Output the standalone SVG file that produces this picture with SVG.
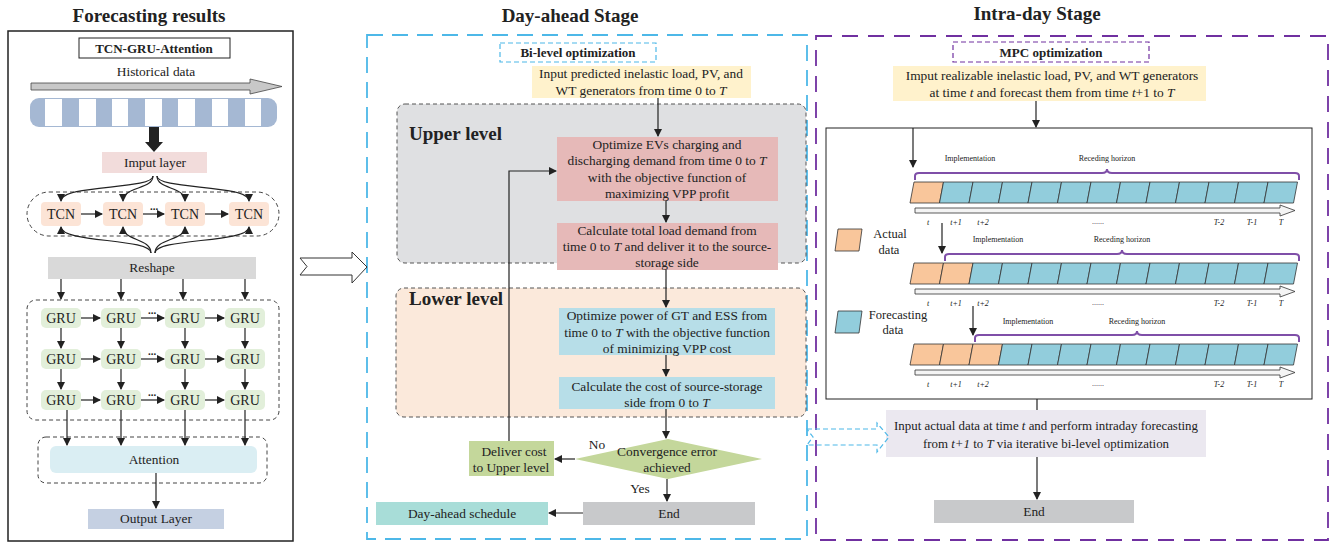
<svg xmlns="http://www.w3.org/2000/svg" width="1343" height="545" viewBox="0 0 1343 545">
<defs>
<style>
text{font-family:"Liberation Serif","Times New Roman",serif;fill:#222;}
.t13{font-size:13.4px;text-anchor:middle;}
.t12{font-size:12.9px;text-anchor:middle;}
.t14{font-size:14px;text-anchor:middle;}
.b13{font-size:13px;font-weight:bold;text-anchor:middle;}
.h{font-size:19px;font-weight:bold;text-anchor:middle;}
.lv{font-size:19px;font-weight:bold;}
.s8{font-size:8px;text-anchor:middle;}
.i{font-style:italic;}
.ln{stroke:#222;stroke-width:1.2;fill:none;}
.arr{stroke:#222;stroke-width:1.2;fill:none;marker-end:url(#ah);}
.dash{fill:none;stroke:#444;stroke-width:1;stroke-dasharray:4,3;}
.cellO{fill:#f9c69b;stroke:#333;stroke-width:0.8;}
.cellB{fill:#92cddc;stroke:#333;stroke-width:0.8;}
.tl{fill:#f4f4f4;stroke:#333;stroke-width:0.8;}
.brace{fill:none;stroke:#7f4fa8;stroke-width:2;}
</style>
<marker id="ah" markerWidth="8" markerHeight="8" refX="7" refY="4" orient="auto" markerUnits="userSpaceOnUse">
<path d="M0,0 L8,4 L0,8 Z" fill="#222"/>
</marker>
<polygon id="cell" points="4,0 33.5,0 29.5,21 0,21"/>
<polygon id="tarr" points="0,-2.5 365,-2.5 365,-5.5 380,0 365,5.5 365,2.5 0,2.5"/>
</defs>

<!-- Titles -->
<text class="h" x="149" y="22">Forecasting results</text>
<text class="h" x="570" y="22">Day-ahead Stage</text>
<text class="h" x="1037" y="20">Intra-day Stage</text>

<!-- Left panel -->
<g id="panel-forecast">
<rect x="8" y="31" width="285" height="510" fill="#fff" stroke="#222" stroke-width="1.5"/>
<rect x="79" y="38" width="151" height="20" fill="#fff" stroke="#222" stroke-width="1"/>
<text class="b13" x="154" y="53">TCN-GRU-Attention</text>
<text class="t13" x="156" y="76">Historical data</text>
<polygon points="31,83 250,83 250,79 282,86.5 250,94 250,90 31,90" fill="#c8c8c8" stroke="#444" stroke-width="0.8"/>
<rect x="30" y="98" width="247" height="29" rx="9" fill="#a5b8d3"/>
<g fill="#fff">
<rect x="45" y="99" width="17" height="27"/><rect x="79" y="99" width="17" height="27"/><rect x="112" y="99" width="16" height="27"/><rect x="145" y="99" width="17" height="27"/><rect x="178" y="99" width="17" height="27"/><rect x="212" y="99" width="16" height="27"/><rect x="245" y="99" width="16" height="27"/>
</g>
<polygon points="149,127 159,127 159,142 163,142 154,152 145,142 149,142" fill="#222"/>
</g>

<g id="imput-layer"><rect x="102" y="152" width="105" height="21" fill="#f2dcdb"/><text class="t13" x="155" y="167">Imput layer</text></g>

<g id="tcn-block">
<rect x="27" y="192" width="252" height="44" rx="22" class="dash"/>
<rect x="41" y="202" width="40" height="24" rx="4" fill="#fce4d6"/><text class="t14" x="61" y="219">TCN</text>
<rect x="103" y="202" width="40" height="24" rx="4" fill="#fce4d6"/><text class="t14" x="123" y="219">TCN</text>
<rect x="165" y="202" width="40" height="24" rx="4" fill="#fce4d6"/><text class="t14" x="185" y="219">TCN</text>
<rect x="229" y="202" width="40" height="24" rx="4" fill="#fce4d6"/><text class="t14" x="249" y="219">TCN</text>
<text x="154" y="210" style="font-size:11px;font-weight:bold;text-anchor:middle">...</text>
</g>

<g id="reshape"><rect x="48" y="257" width="208" height="22" fill="#d9d9d9"/><text class="t13" x="152" y="272">Reshape</text></g>

<g id="gru-block">
<rect x="27" y="300" width="252" height="120" rx="9" class="dash"/>
<g fill="#e2efda">
<rect x="41" y="308" width="40" height="20" rx="5"/><rect x="101" y="308" width="40" height="20" rx="5"/><rect x="165" y="308" width="40" height="20" rx="5"/><rect x="225" y="308" width="40" height="20" rx="5"/>
<rect x="41" y="349" width="40" height="20" rx="5"/><rect x="101" y="349" width="40" height="20" rx="5"/><rect x="165" y="349" width="40" height="20" rx="5"/><rect x="225" y="349" width="40" height="20" rx="5"/>
<rect x="41" y="390" width="40" height="20" rx="5"/><rect x="101" y="390" width="40" height="20" rx="5"/><rect x="165" y="390" width="40" height="20" rx="5"/><rect x="225" y="390" width="40" height="20" rx="5"/>
</g>
<text class="t14" x="61" y="323">GRU</text><text class="t14" x="121" y="323">GRU</text><text class="t14" x="185" y="323">GRU</text><text class="t14" x="245" y="323">GRU</text>
<text class="t14" x="61" y="364">GRU</text><text class="t14" x="121" y="364">GRU</text><text class="t14" x="185" y="364">GRU</text><text class="t14" x="245" y="364">GRU</text>
<text class="t14" x="61" y="405">GRU</text><text class="t14" x="121" y="405">GRU</text><text class="t14" x="185" y="405">GRU</text><text class="t14" x="245" y="405">GRU</text>
<text x="152" y="314" style="font-size:11px;font-weight:bold;text-anchor:middle">...</text>
<text x="152" y="355" style="font-size:11px;font-weight:bold;text-anchor:middle">...</text>
<text x="152" y="396" style="font-size:11px;font-weight:bold;text-anchor:middle">...</text>
</g>

<g id="attention">
<rect x="38" y="437" width="229" height="46" rx="8" class="dash"/>
<rect x="50" y="446" width="207" height="27" rx="6" fill="#daeef3"/>
<text class="t13" x="154" y="464">Attention</text>
</g>

<g id="output-layer"><rect x="88" y="509" width="136" height="20" fill="#c5d0e2"/><text class="t13" x="156" y="523">Output Layer</text></g>

<!-- Middle panel -->
<g id="panel-dayahead">
<rect x="367" y="35" width="440" height="504" fill="none" stroke="#4db8e8" stroke-width="1.8" stroke-dasharray="16,9"/>
<rect x="500" y="43" width="156" height="19" fill="none" stroke="#4db8e8" stroke-width="1.2" stroke-dasharray="5,3"/>
<text class="b13" x="578" y="57">Bi-level optimization</text>
</g>

<g id="upper-level">
<rect x="397" y="104" width="409" height="159" rx="8" fill="#dfe0e2" stroke="#555" stroke-width="1" stroke-dasharray="4,3"/>
<text class="lv" x="409" y="140">Upper level</text>
</g>
<g id="lower-level">
<rect x="396" y="288" width="410" height="129" rx="8" fill="#fbe9db" stroke="#555" stroke-width="1" stroke-dasharray="4,3"/>
<text class="lv" x="409" y="305">Lower level</text>
</g>

<g id="input-predicted">
<rect x="532" y="66" width="219" height="32" fill="#fff2cc"/>
<text class="t13" x="641" y="77.5">Input predicted inelastic load, PV, and</text>
<text class="t13" x="641" y="95">WT generators from time 0 to <tspan class="i">T</tspan></text>
</g>

<g id="optimize-evs">
<rect x="557" y="137" width="221" height="64" fill="#e6b9b8"/>
<text class="t13" x="667" y="148.5">Optimize EVs charging and</text>
<text class="t13" x="667" y="164.5">discharging demand from time 0 to <tspan class="i">T</tspan></text>
<text class="t13" x="667" y="181.5">with the objective function of</text>
<text class="t13" x="667" y="197.5">maximizing VPP profit</text>
</g>

<g id="calc-load">
<rect x="557" y="223" width="221" height="47" fill="#e6b9b8"/>
<text class="t13" x="667" y="234.5">Calculate total load demand  from</text>
<text class="t13" x="667" y="250.5">time 0 to <tspan class="i">T</tspan> and deliver it to the source-</text>
<text class="t13" x="667" y="266.5">storage side</text>
</g>

<g id="optimize-gt">
<rect x="559" y="308" width="216" height="47" fill="#b7dee8"/>
<text class="t13" x="667" y="319.5">Optimize power of GT and ESS from</text>
<text class="t13" x="667" y="336.5">time 0 to <tspan class="i">T</tspan> with the objective function</text>
<text class="t13" x="667" y="352.5">of minimizing VPP cost</text>
</g>

<g id="calc-cost">
<rect x="559" y="377" width="216" height="32" fill="#b7dee8"/>
<text class="t13" x="667" y="390.5">Calculate the cost of source-storage</text>
<text class="t13" x="667" y="407">side from 0 to <tspan class="i">T</tspan></text>
</g>

<g id="convergence">
<polygon points="575,459 668,439 762,459 668,479" fill="#c4d79b"/>
<text class="t13" x="667" y="455.5">Convergence error</text>
<text class="t13" x="667" y="472">achieved</text>
</g>

<g id="deliver-cost">
<rect x="469" y="441" width="85" height="35" fill="#c4d79b"/>
<text class="t13" x="514" y="455.5">Deliver cost</text>
<text class="t13" x="511" y="472">to Upper level</text>
</g>

<g id="end-dayahead"><rect x="583" y="502" width="172" height="23" fill="#c8c9cb"/><text class="t13" x="669" y="518">End</text></g>
<g id="dayahead-schedule"><rect x="376" y="502" width="172" height="23" fill="#a8ddd8"/><text class="t13" x="462" y="518">Day-ahead schedule</text></g>

<text class="t13" x="597" y="449">No</text>
<text class="t13" x="640" y="493">Yes</text>

<!-- Right panel -->
<g id="panel-intraday">
<rect x="816" y="36" width="512" height="504" fill="none" stroke="#7030a0" stroke-width="1.8" stroke-dasharray="16,10"/>
<rect x="953" y="42" width="196" height="20" fill="none" stroke="#7030a0" stroke-width="1.2" stroke-dasharray="5,3"/>
<text class="b13" x="1051" y="57">MPC optimization</text>
</g>

<g id="input-realizable">
<rect x="893" y="66" width="313" height="35" fill="#fff2cc"/>
<text class="t13" x="1052" y="79.5">Imput realizable inelastic load, PV, and WT generators</text>
<text class="t13" x="1052" y="96.5">at time <tspan class="i">t</tspan> and forecast them from time <tspan class="i">t</tspan>+1 to <tspan class="i">T</tspan></text>
</g>

<g id="mpc-timeline">
<rect x="826" y="128" width="486" height="271" fill="#fff" stroke="#222" stroke-width="1"/>
<!-- legend -->
<polygon points="838,229 862,229 859,251 835,251" class="cellO"/>
<text x="890" y="238" style="font-size:12.5px;text-anchor:middle">Actual</text>
<text x="889" y="254" style="font-size:12.5px;text-anchor:middle">data</text>
<polygon points="838,311 862,311 859,333 835,333" class="cellB"/>
<text x="898" y="319" style="font-size:12.5px;text-anchor:middle">Forecasting</text>
<text x="893" y="334" style="font-size:12.5px;text-anchor:middle">data</text>

<!-- row 1 -->
<text class="s8" x="970" y="161">Implementation</text>
<text class="s8" x="1107" y="161">Receding horizon</text>
<path class="brace" d="M915,180 L915,176 Q915,173 919,173 L1102,173 Q1107,173 1107,169 Q1107,173 1112,173 L1295,173 Q1299,173 1299,176 L1299,180"/>
<use href="#cell" x="910" y="182" class="cellO"/>
<use href="#cell" x="939.5" y="182" class="cellB"/><use href="#cell" x="969" y="182" class="cellB"/><use href="#cell" x="998.5" y="182" class="cellB"/><use href="#cell" x="1028" y="182" class="cellB"/><use href="#cell" x="1057.5" y="182" class="cellB"/><use href="#cell" x="1087" y="182" class="cellB"/><use href="#cell" x="1116.5" y="182" class="cellB"/><use href="#cell" x="1146" y="182" class="cellB"/><use href="#cell" x="1175.5" y="182" class="cellB"/><use href="#cell" x="1205" y="182" class="cellB"/><use href="#cell" x="1234.5" y="182" class="cellB"/><use href="#cell" x="1264" y="182" class="cellB"/>
<use href="#tarr" x="915" y="210.5" class="tl"/>
<g class="s8 i">
<text x="928" y="225">t</text><text x="956" y="225">t+1</text><text x="983" y="225">t+2</text><text x="1219" y="225">T-2</text><text x="1252" y="225">T-1</text><text x="1281" y="225">T</text>
</g>
<text class="s8" x="1098" y="224">......</text>

<!-- row 2 -->
<text class="s8" x="998" y="242">Implementation</text>
<text class="s8" x="1122" y="242">Receding horizon</text>
<path class="brace" d="M945,261 L945,257 Q945,254 949,254 L1117,254 Q1122,254 1122,250 Q1122,254 1127,254 L1295,254 Q1299,254 1299,257 L1299,261"/>
<use href="#cell" x="910" y="263" class="cellO"/><use href="#cell" x="939.5" y="263" class="cellO"/>
<use href="#cell" x="969" y="263" class="cellB"/><use href="#cell" x="998.5" y="263" class="cellB"/><use href="#cell" x="1028" y="263" class="cellB"/><use href="#cell" x="1057.5" y="263" class="cellB"/><use href="#cell" x="1087" y="263" class="cellB"/><use href="#cell" x="1116.5" y="263" class="cellB"/><use href="#cell" x="1146" y="263" class="cellB"/><use href="#cell" x="1175.5" y="263" class="cellB"/><use href="#cell" x="1205" y="263" class="cellB"/><use href="#cell" x="1234.5" y="263" class="cellB"/><use href="#cell" x="1264" y="263" class="cellB"/>
<use href="#tarr" x="915" y="291.5" class="tl"/>
<g class="s8 i">
<text x="928" y="306">t</text><text x="956" y="306">t+1</text><text x="983" y="306">t+2</text><text x="1219" y="306">T-2</text><text x="1252" y="306">T-1</text><text x="1281" y="306">T</text>
</g>
<text class="s8" x="1098" y="305">......</text>

<!-- row 3 -->
<text class="s8" x="1028" y="324">Implementation</text>
<text class="s8" x="1137" y="324">Receding horizon</text>
<path class="brace" d="M975,342 L975,338 Q975,335 979,335 L1132,335 Q1137,335 1137,331 Q1137,335 1142,335 L1295,335 Q1299,335 1299,338 L1299,342"/>
<use href="#cell" x="910" y="344" class="cellO"/><use href="#cell" x="939.5" y="344" class="cellO"/><use href="#cell" x="969" y="344" class="cellO"/>
<use href="#cell" x="998.5" y="344" class="cellB"/><use href="#cell" x="1028" y="344" class="cellB"/><use href="#cell" x="1057.5" y="344" class="cellB"/><use href="#cell" x="1087" y="344" class="cellB"/><use href="#cell" x="1116.5" y="344" class="cellB"/><use href="#cell" x="1146" y="344" class="cellB"/><use href="#cell" x="1175.5" y="344" class="cellB"/><use href="#cell" x="1205" y="344" class="cellB"/><use href="#cell" x="1234.5" y="344" class="cellB"/><use href="#cell" x="1264" y="344" class="cellB"/>
<use href="#tarr" x="915" y="372.5" class="tl"/>
<g class="s8 i">
<text x="928" y="387">t</text><text x="956" y="387">t+1</text><text x="983" y="387">t+2</text><text x="1219" y="387">T-2</text><text x="1252" y="387">T-1</text><text x="1281" y="387">T</text>
</g>
<text class="s8" x="1098" y="386">......</text>
</g>

<g id="input-actual">
<rect x="886" y="410" width="320" height="47" fill="#ebe8f0"/>
<text class="t12" x="1046" y="429.5">Input actual data at time <tspan class="i">t</tspan> and perform intraday forecasting</text>
<text class="t12" x="1046" y="447.5">from <tspan class="i">t+1</tspan> to <tspan class="i">T</tspan> via iterative bi-level optimization</text>
</g>

<g id="end-intraday"><rect x="934" y="500" width="200" height="23" fill="#c8c9cb"/><text class="t13" x="1034" y="516">End</text></g>

<!-- Connectors -->
<g id="connectors">
<!-- left panel -->
<path class="arr" d="M153,176 C153,190 61,184 61,201"/>
<path class="arr" d="M153,176 C153,190 123,186 123,201"/>
<path class="arr" d="M157,176 C157,190 185,186 185,201"/>
<path class="arr" d="M157,176 C157,190 249,184 249,201"/>
<path class="arr" d="M151,253 C151,238 61,243 61,227"/>
<path class="arr" d="M151,253 C151,238 123,241 123,227"/>
<path class="arr" d="M155,253 C155,238 185,241 185,227"/>
<path class="arr" d="M155,253 C155,238 249,243 249,227"/>
<path class="arr" d="M81,214 L102,214"/>
<path class="arr" d="M143,214 L164,214"/>
<path class="arr" d="M205,214 L228,214"/>
<path class="arr" d="M61,279 L61,299"/><path class="arr" d="M121,279 L121,299"/><path class="arr" d="M183,279 L183,299"/><path class="arr" d="M245,279 L245,299"/>
<path class="arr" d="M81,318 L100,318"/><path class="arr" d="M141,318 L164,318"/><path class="arr" d="M205,318 L224,318"/>
<path class="arr" d="M81,359 L100,359"/><path class="arr" d="M141,359 L164,359"/><path class="arr" d="M205,359 L224,359"/>
<path class="arr" d="M81,400 L100,400"/><path class="arr" d="M141,400 L164,400"/><path class="arr" d="M205,400 L224,400"/>
<path class="arr" d="M61,328 L61,348"/><path class="arr" d="M121,328 L121,348"/><path class="arr" d="M185,328 L185,348"/><path class="arr" d="M245,328 L245,348"/>
<path class="arr" d="M61,369 L61,389"/><path class="arr" d="M121,369 L121,389"/><path class="arr" d="M185,369 L185,389"/><path class="arr" d="M245,369 L245,389"/>
<path class="arr" d="M67,410 L67,445"/><path class="arr" d="M121,410 L121,445"/><path class="arr" d="M185,410 L185,445"/><path class="arr" d="M245,410 L245,445"/>
<path class="arr" d="M156,473 L156,508"/>
<!-- hollow arrow between panels -->
<polygon points="300,258 352,258 352,252 367,267 352,283 352,275 300,275 307,266.5" fill="#fff" stroke="#333" stroke-width="1"/>
<!-- middle panel -->
<path class="arr" d="M658,98 L658,136"/>
<path class="arr" d="M666,201 L666,222"/>
<path class="arr" d="M666,270 L666,307"/>
<path class="arr" d="M666,355 L666,376"/>
<path class="arr" d="M666,409 L666,438"/>
<path class="arr" d="M575,459 L555,459"/>
<path class="arr" d="M509,441 L509,171 L556,171"/>
<path class="arr" d="M667,479 L667,501"/>
<path class="arr" d="M583,513 L549,513"/>
<!-- link to intraday -->
<polygon points="807,429 877,429 877,423 889,437 877,452 877,445 807,445 813,437" fill="none" stroke="#4db8e8" stroke-width="1.2" stroke-dasharray="5,3"/>
<!-- right panel -->
<path class="arr" d="M1036,101 L1036,127"/>
<path class="arr" d="M913,128 L913,167"/>
<path class="arr" d="M942,223 L942,253"/>
<path class="arr" d="M973,306 L973,335"/>
<path class="ln" d="M1037,399 L1037,410"/>
<path class="arr" d="M1037,457 L1037,499"/>
</g>
</svg>
